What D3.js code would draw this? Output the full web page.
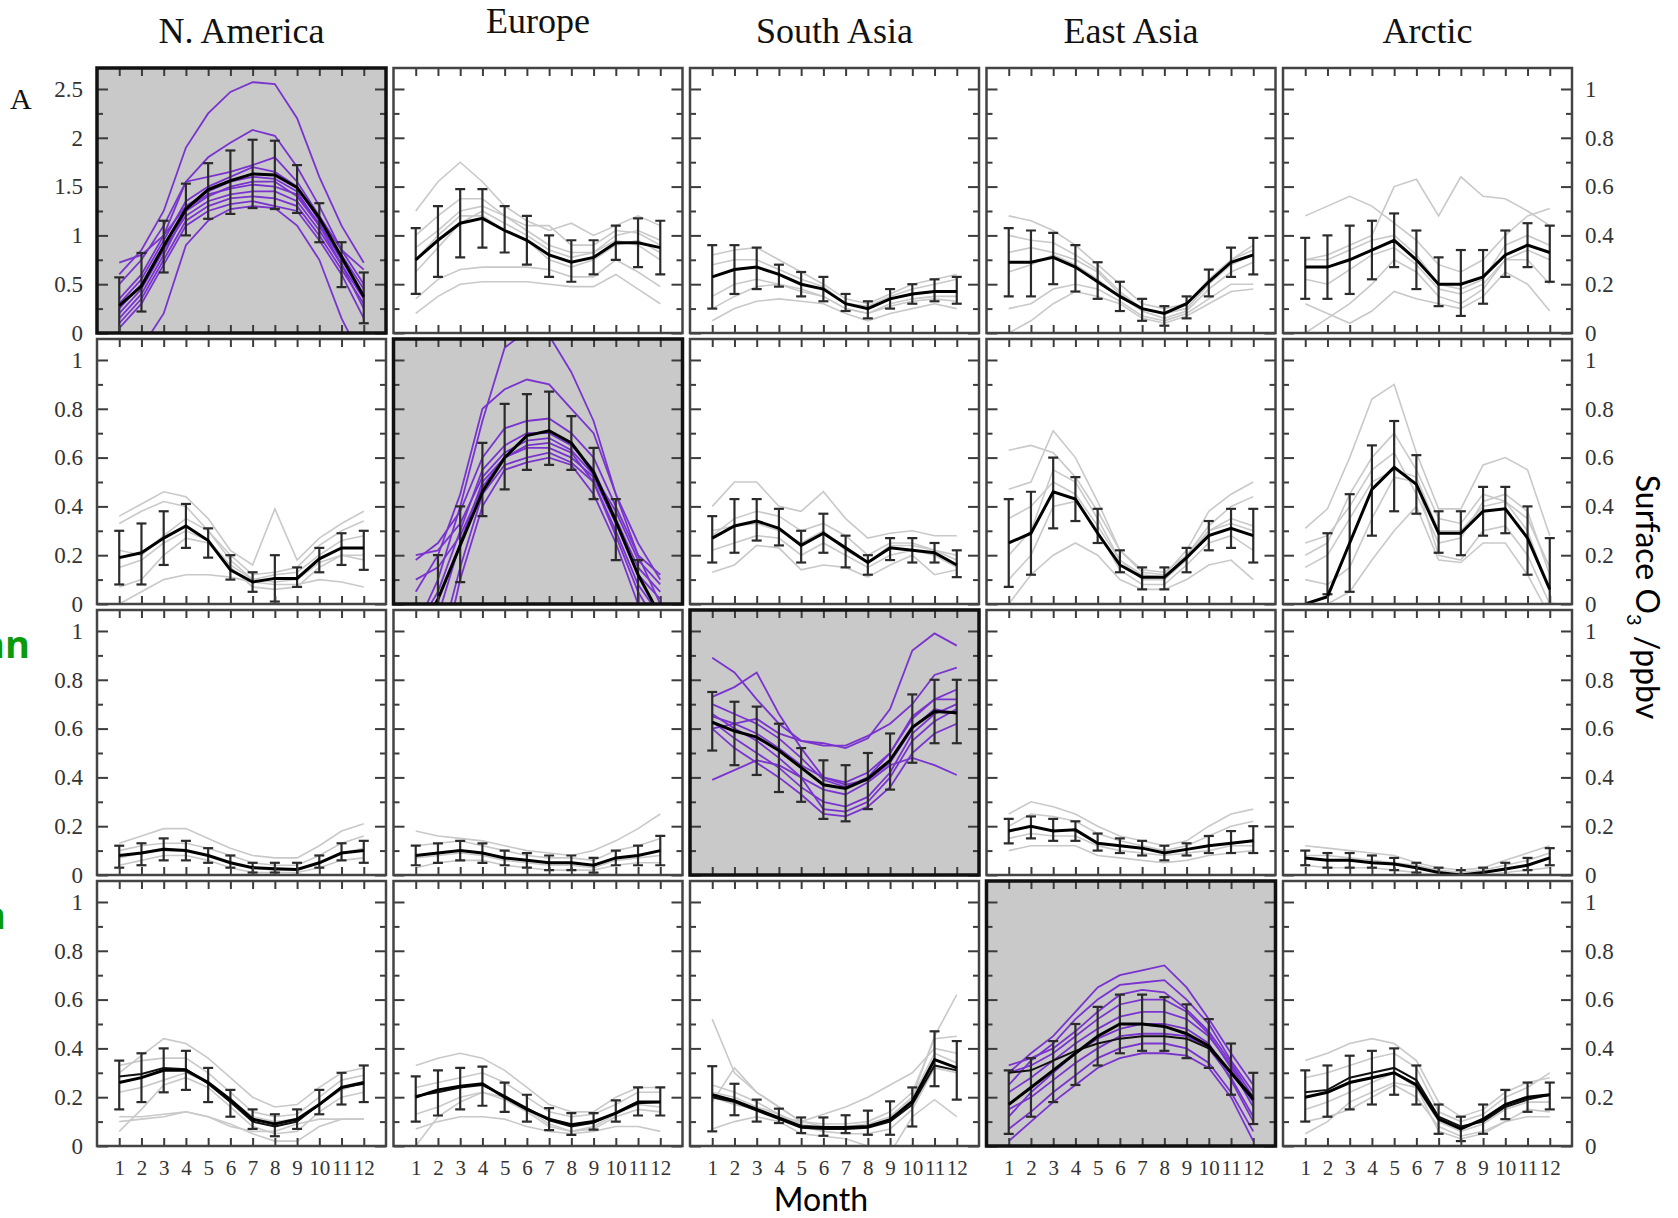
<!DOCTYPE html>
<html>
<head>
<meta charset="utf-8">
<script src="https://cdn.jsdelivr.net/npm/d3@7"></script>
<style>
  body { margin: 0; background: #fff; }
  svg { display: block; }
</style>
</head>
<body>
<svg id="chart"></svg>
<script>
// Column regions and months
const regions = ["N. America", "Europe", "South Asia", "East Asia", "Arctic"];
const months = [1, 2, 3, 4, 5, 6, 7, 8, 9, 10, 11, 12];
const yTicksUnit = [0, 0.2, 0.4, 0.6, 0.8, 1];
const yMinorUnit = [0.1, 0.3, 0.5, 0.7, 0.9];
const yTicksBig = [0, 0.5, 1, 1.5, 2, 2.5];
const yMinorBig = [0.25, 0.75, 1.25, 1.75, 2.25];

// ---------- row 1 ----------
const meanR1 = [
  [0.28, 0.48, 0.89, 1.27, 1.47, 1.56, 1.63, 1.62, 1.49, 1.18, 0.78, 0.37],
  [0.30, 0.38, 0.45, 0.47, 0.42, 0.38, 0.32, 0.29, 0.31, 0.37, 0.37, 0.35],
  [0.23, 0.26, 0.27, 0.24, 0.20, 0.18, 0.12, 0.10, 0.14, 0.16, 0.17, 0.17],
  [0.29, 0.29, 0.31, 0.27, 0.21, 0.15, 0.10, 0.08, 0.12, 0.21, 0.29, 0.32],
  [0.27, 0.27, 0.30, 0.34, 0.38, 0.30, 0.20, 0.20, 0.23, 0.32, 0.36, 0.33]
];
const loR1 = [
  [0.00, 0.22, 0.62, 1.00, 1.17, 1.22, 1.28, 1.27, 1.23, 0.93, 0.47, 0.10],
  [0.16, 0.23, 0.31, 0.35, 0.33, 0.28, 0.23, 0.21, 0.24, 0.30, 0.27, 0.24],
  [0.10, 0.16, 0.18, 0.19, 0.15, 0.13, 0.09, 0.06, 0.10, 0.12, 0.13, 0.12],
  [0.15, 0.15, 0.20, 0.17, 0.14, 0.09, 0.05, 0.03, 0.06, 0.15, 0.23, 0.24],
  [0.14, 0.14, 0.16, 0.22, 0.27, 0.18, 0.11, 0.07, 0.12, 0.23, 0.27, 0.21]
];
const hiR1 = [
  [0.57, 0.82, 1.15, 1.53, 1.74, 1.87, 1.98, 1.97, 1.72, 1.33, 0.93, 0.62],
  [0.43, 0.52, 0.59, 0.59, 0.52, 0.48, 0.40, 0.38, 0.38, 0.44, 0.47, 0.46],
  [0.36, 0.36, 0.35, 0.28, 0.25, 0.23, 0.16, 0.13, 0.18, 0.20, 0.22, 0.23],
  [0.43, 0.42, 0.41, 0.36, 0.29, 0.21, 0.14, 0.11, 0.15, 0.26, 0.35, 0.39],
  [0.39, 0.40, 0.44, 0.46, 0.49, 0.42, 0.31, 0.34, 0.34, 0.42, 0.45, 0.44]
];
const membersR1 = [
  [
    [0.60, 0.85, 1.25, 1.90, 2.25, 2.47, 2.57, 2.55, 2.20, 1.60, 1.10, 0.72],
    [0.50, 0.75, 1.10, 1.55, 1.80, 1.95, 2.08, 2.02, 1.70, 1.30, 0.85, 0.50],
    [-0.50, -0.15, 0.20, 0.90, 1.15, 1.27, 1.30, 1.28, 1.10, 0.75, 0.15, -0.30],
    [0.30, 0.55, 0.95, 1.35, 1.50, 1.60, 1.70, 1.65, 1.50, 1.15, 0.75, 0.40],
    [0.20, 0.45, 0.85, 1.20, 1.35, 1.42, 1.45, 1.45, 1.35, 1.05, 0.70, 0.35],
    [0.10, 0.35, 0.75, 1.15, 1.30, 1.38, 1.40, 1.38, 1.30, 1.00, 0.65, 0.30],
    [0.72, 0.80, 1.00, 1.55, 1.60, 1.65, 1.72, 1.80, 1.55, 1.20, 0.85, 0.65],
    [0.15, 0.40, 0.80, 1.25, 1.40, 1.50, 1.55, 1.55, 1.40, 1.10, 0.70, 0.25],
    [0.05, 0.30, 0.70, 1.10, 1.25, 1.32, 1.35, 1.30, 1.25, 0.95, 0.60, 0.15],
    [0.35, 0.60, 1.00, 1.30, 1.45, 1.55, 1.60, 1.58, 1.45, 1.10, 0.80, 0.45],
    [0.25, 0.50, 0.90, 1.28, 1.42, 1.48, 1.52, 1.50, 1.42, 1.12, 0.75, 0.38]
  ],
  [
    [0.50, 0.62, 0.70, 0.62, 0.52, 0.46, 0.42, 0.45, 0.40, 0.44, 0.48, 0.44],
    [0.08, 0.15, 0.20, 0.21, 0.21, 0.21, 0.20, 0.19, 0.19, 0.24, 0.18, 0.12],
    [0.14, 0.22, 0.26, 0.27, 0.27, 0.27, 0.26, 0.23, 0.23, 0.30, 0.25, 0.19],
    [0.35, 0.42, 0.50, 0.52, 0.48, 0.42, 0.36, 0.33, 0.33, 0.40, 0.42, 0.38],
    [0.25, 0.35, 0.45, 0.50, 0.45, 0.40, 0.34, 0.31, 0.33, 0.38, 0.36, 0.30],
    [0.40, 0.48, 0.55, 0.55, 0.48, 0.44, 0.44, 0.36, 0.36, 0.42, 0.41, 0.36],
    [0.30, 0.40, 0.48, 0.48, 0.42, 0.38, 0.30, 0.27, 0.30, 0.36, 0.38, 0.33]
  ],
  [
    [0.32, 0.34, 0.35, 0.30, 0.25, 0.20, 0.14, 0.12, 0.16, 0.20, 0.22, 0.24],
    [0.15, 0.20, 0.22, 0.20, 0.17, 0.15, 0.10, 0.08, 0.12, 0.14, 0.15, 0.15],
    [0.05, 0.10, 0.13, 0.14, 0.13, 0.12, 0.08, 0.05, 0.08, 0.10, 0.12, 0.10],
    [0.28, 0.30, 0.30, 0.26, 0.22, 0.19, 0.12, 0.11, 0.15, 0.18, 0.20, 0.22],
    [0.10, 0.15, 0.19, 0.20, 0.18, 0.15, 0.10, 0.08, 0.11, 0.13, 0.14, 0.13]
  ],
  [
    [0.48, 0.46, 0.42, 0.36, 0.28, 0.20, 0.12, 0.10, 0.12, 0.22, 0.30, 0.34],
    [0.40, 0.38, 0.37, 0.32, 0.26, 0.17, 0.10, 0.08, 0.10, 0.20, 0.28, 0.32],
    [0.10, 0.12, 0.18, 0.20, 0.18, 0.13, 0.07, 0.05, 0.08, 0.14, 0.20, 0.20],
    [0.25, 0.28, 0.32, 0.28, 0.22, 0.15, 0.09, 0.06, 0.09, 0.18, 0.25, 0.29],
    [0.00, 0.05, 0.12, 0.17, 0.15, 0.12, 0.06, 0.04, 0.07, 0.12, 0.17, 0.18],
    [0.33, 0.35, 0.33, 0.30, 0.25, 0.16, 0.10, 0.08, 0.10, 0.20, 0.30, 0.36]
  ],
  [
    [0.48, 0.52, 0.56, 0.52, 0.45, 0.38, 0.28, 0.25, 0.30, 0.40, 0.48, 0.51],
    [0.30, 0.32, 0.36, 0.40, 0.60, 0.63, 0.48, 0.64, 0.56, 0.55, 0.50, 0.44],
    [0.12, 0.08, 0.04, 0.09, 0.17, 0.14, 0.12, 0.10, 0.15, 0.25, 0.20, 0.09],
    [0.00, 0.06, 0.12, 0.20, 0.30, 0.25, 0.15, 0.12, 0.18, 0.30, 0.30, 0.20],
    [0.30, 0.30, 0.34, 0.38, 0.40, 0.32, 0.20, 0.18, 0.22, 0.36, 0.40, 0.36],
    [0.22, 0.20, 0.26, 0.32, 0.35, 0.28, 0.18, 0.16, 0.20, 0.30, 0.34, 0.30]
  ]
];

// ---------- row 2 ----------
const meanR2 = [
  [0.19, 0.21, 0.27, 0.32, 0.26, 0.14, 0.09, 0.105, 0.105, 0.185, 0.23, 0.23],
  [-0.15, 0.02, 0.24, 0.46, 0.60, 0.69, 0.71, 0.66, 0.54, 0.34, 0.12, -0.05],
  [0.27, 0.32, 0.34, 0.31, 0.24, 0.29, 0.23, 0.17, 0.23, 0.22, 0.21, 0.16],
  [0.25, 0.29, 0.46, 0.43, 0.29, 0.16, 0.11, 0.11, 0.19, 0.28, 0.31, 0.28],
  [0.00, 0.03, 0.25, 0.47, 0.56, 0.49, 0.29, 0.29, 0.38, 0.39, 0.27, 0.06]
];
const loR2 = [
  [0.08, 0.08, 0.16, 0.23, 0.19, 0.10, 0.05, 0.01, 0.07, 0.13, 0.16, 0.14],
  [-0.30, -0.05, 0.09, 0.36, 0.47, 0.55, 0.57, 0.55, 0.43, 0.18, 0.00, -0.20],
  [0.17, 0.21, 0.26, 0.24, 0.17, 0.21, 0.15, 0.12, 0.18, 0.17, 0.17, 0.11],
  [0.07, 0.12, 0.31, 0.34, 0.25, 0.13, 0.06, 0.06, 0.13, 0.22, 0.23, 0.17],
  [0.00, 0.04, 0.05, 0.28, 0.38, 0.37, 0.21, 0.20, 0.28, 0.29, 0.12, 0.00]
];
const hiR2 = [
  [0.30, 0.33, 0.38, 0.41, 0.31, 0.20, 0.13, 0.20, 0.15, 0.23, 0.29, 0.30],
  [-0.02, 0.20, 0.40, 0.66, 0.82, 0.86, 0.87, 0.77, 0.64, 0.43, 0.18, -0.02],
  [0.36, 0.43, 0.43, 0.39, 0.30, 0.37, 0.28, 0.20, 0.27, 0.27, 0.25, 0.22],
  [0.43, 0.46, 0.60, 0.52, 0.39, 0.22, 0.15, 0.15, 0.23, 0.34, 0.39, 0.39],
  [0.00, 0.29, 0.45, 0.65, 0.75, 0.61, 0.38, 0.38, 0.48, 0.48, 0.40, 0.27]
];
const membersR2 = [
  [
    [0.36, 0.41, 0.46, 0.44, 0.35, 0.22, 0.16, 0.39, 0.18, 0.27, 0.33, 0.38],
    [0.33, 0.38, 0.42, 0.40, 0.30, 0.20, 0.12, 0.13, 0.15, 0.24, 0.30, 0.34],
    [0.00, 0.05, 0.10, 0.12, 0.12, 0.11, 0.09, 0.08, 0.08, 0.10, 0.09, 0.07],
    [0.07, 0.10, 0.20, 0.27, 0.25, 0.15, 0.07, 0.06, 0.07, 0.15, 0.20, 0.18],
    [0.15, 0.18, 0.25, 0.30, 0.26, 0.16, 0.10, 0.09, 0.10, 0.17, 0.20, 0.20],
    [0.22, 0.20, 0.28, 0.35, 0.30, 0.18, 0.10, 0.12, 0.13, 0.20, 0.26, 0.28]
  ],
  [
    [-0.10, 0.10, 0.40, 0.75, 1.05, 1.12, 1.10, 0.95, 0.75, 0.45, 0.20, 0.00],
    [0.05, 0.20, 0.45, 0.80, 0.88, 0.92, 0.90, 0.80, 0.70, 0.45, 0.25, 0.10],
    [0.18, 0.25, 0.38, 0.60, 0.72, 0.75, 0.76, 0.70, 0.60, 0.40, 0.20, 0.12],
    [-0.10, 0.05, 0.30, 0.55, 0.65, 0.70, 0.70, 0.65, 0.55, 0.35, 0.15, 0.05],
    [-0.20, -0.05, 0.25, 0.50, 0.60, 0.65, 0.66, 0.62, 0.50, 0.30, 0.08, -0.05],
    [-0.30, -0.20, 0.15, 0.45, 0.57, 0.60, 0.62, 0.58, 0.50, 0.28, 0.05, -0.10],
    [-0.50, -0.30, 0.10, 0.40, 0.55, 0.58, 0.60, 0.57, 0.45, 0.25, 0.00, -0.20],
    [0.20, 0.22, 0.33, 0.52, 0.62, 0.67, 0.68, 0.63, 0.53, 0.38, 0.18, 0.08],
    [0.10, 0.15, 0.28, 0.48, 0.60, 0.64, 0.64, 0.60, 0.52, 0.33, 0.12, 0.02]
  ],
  [
    [0.40, 0.50, 0.50, 0.40, 0.38, 0.46, 0.35, 0.27, 0.29, 0.30, 0.28, 0.28],
    [0.28, 0.35, 0.38, 0.36, 0.30, 0.33, 0.28, 0.20, 0.25, 0.25, 0.22, 0.20],
    [0.13, 0.16, 0.24, 0.23, 0.14, 0.16, 0.15, 0.11, 0.16, 0.20, 0.12, 0.14],
    [0.22, 0.25, 0.28, 0.27, 0.20, 0.25, 0.20, 0.15, 0.20, 0.22, 0.20, 0.15],
    [0.30, 0.32, 0.33, 0.30, 0.25, 0.30, 0.22, 0.17, 0.24, 0.24, 0.22, 0.18]
  ],
  [
    [0.63, 0.65, 0.62, 0.52, 0.38, 0.22, 0.14, 0.13, 0.20, 0.32, 0.40, 0.44],
    [0.47, 0.50, 0.71, 0.60, 0.42, 0.22, 0.13, 0.12, 0.22, 0.38, 0.45, 0.50],
    [0.00, 0.12, 0.20, 0.25, 0.20, 0.10, 0.06, 0.06, 0.10, 0.16, 0.18, 0.10],
    [0.20, 0.30, 0.55, 0.50, 0.35, 0.18, 0.10, 0.10, 0.18, 0.30, 0.35, 0.32],
    [0.10, 0.20, 0.40, 0.42, 0.30, 0.14, 0.08, 0.08, 0.16, 0.25, 0.28, 0.22],
    [0.35, 0.40, 0.50, 0.45, 0.32, 0.18, 0.12, 0.11, 0.20, 0.30, 0.33, 0.30]
  ],
  [
    [0.31, 0.39, 0.60, 0.84, 0.90, 0.62, 0.39, 0.39, 0.57, 0.60, 0.55, 0.28],
    [0.20, 0.25, 0.45, 0.60, 0.70, 0.55, 0.35, 0.33, 0.45, 0.42, 0.30, 0.05],
    [0.15, 0.20, 0.35, 0.50, 0.55, 0.52, 0.30, 0.30, 0.40, 0.42, 0.35, 0.15],
    [0.10, 0.08, 0.15, 0.35, 0.52, 0.50, 0.20, 0.18, 0.30, 0.32, 0.20, 0.00],
    [-0.05, 0.00, 0.05, 0.18, 0.30, 0.40, 0.18, 0.17, 0.25, 0.25, 0.12, -0.05],
    [0.25, 0.28, 0.40, 0.55, 0.62, 0.45, 0.25, 0.27, 0.42, 0.45, 0.38, 0.12]
  ]
];

// ---------- row 3 ----------
const meanR3 = [
  [0.08, 0.09, 0.105, 0.10, 0.08, 0.05, 0.03, 0.026, 0.023, 0.05, 0.09, 0.10],
  [0.08, 0.09, 0.10, 0.09, 0.07, 0.06, 0.05, 0.05, 0.04, 0.07, 0.08, 0.10],
  [0.626, 0.59, 0.565, 0.51, 0.44, 0.37, 0.355, 0.395, 0.47, 0.605, 0.67, 0.665],
  [0.18, 0.20, 0.18, 0.185, 0.13, 0.12, 0.11, 0.09, 0.105, 0.12, 0.13, 0.14],
  [0.07, 0.06, 0.06, 0.05, 0.045, 0.03, 0.01, 0.00, 0.01, 0.025, 0.04, 0.07]
];
const loR3 = [
  [0.03, 0.04, 0.06, 0.06, 0.05, 0.03, 0.01, 0.01, 0.00, 0.03, 0.06, 0.05],
  [0.04, 0.05, 0.06, 0.05, 0.04, 0.03, 0.02, 0.02, 0.01, 0.04, 0.04, 0.04],
  [0.51, 0.45, 0.41, 0.34, 0.30, 0.23, 0.22, 0.27, 0.35, 0.46, 0.54, 0.54],
  [0.13, 0.15, 0.14, 0.14, 0.10, 0.09, 0.08, 0.06, 0.08, 0.09, 0.09, 0.09],
  [0.04, 0.03, 0.03, 0.03, 0.02, 0.01, 0.00, -0.01, 0.00, 0.00, 0.02, 0.04]
];
const hiR3 = [
  [0.12, 0.13, 0.15, 0.14, 0.11, 0.08, 0.05, 0.05, 0.05, 0.08, 0.13, 0.14],
  [0.12, 0.13, 0.14, 0.13, 0.10, 0.09, 0.08, 0.08, 0.07, 0.10, 0.12, 0.16],
  [0.75, 0.71, 0.69, 0.62, 0.52, 0.47, 0.45, 0.50, 0.58, 0.74, 0.80, 0.80],
  [0.23, 0.24, 0.23, 0.22, 0.17, 0.15, 0.14, 0.12, 0.13, 0.16, 0.18, 0.20],
  [0.10, 0.09, 0.09, 0.08, 0.07, 0.05, 0.03, 0.02, 0.03, 0.05, 0.07, 0.11]
];
const membersR3 = [
  [
    [0.13, 0.16, 0.19, 0.19, 0.15, 0.11, 0.08, 0.07, 0.07, 0.12, 0.18, 0.21],
    [0.10, 0.12, 0.13, 0.13, 0.11, 0.08, 0.05, 0.04, 0.04, 0.08, 0.13, 0.16],
    [0.04, 0.06, 0.08, 0.08, 0.06, 0.03, 0.01, 0.01, 0.01, 0.03, 0.06, 0.07],
    [0.07, 0.09, 0.11, 0.10, 0.08, 0.05, 0.03, 0.02, 0.02, 0.05, 0.09, 0.11]
  ],
  [
    [0.18, 0.16, 0.15, 0.14, 0.12, 0.10, 0.09, 0.08, 0.10, 0.14, 0.19, 0.25],
    [0.12, 0.13, 0.14, 0.12, 0.10, 0.08, 0.07, 0.07, 0.06, 0.10, 0.12, 0.15],
    [0.03, 0.05, 0.06, 0.06, 0.04, 0.03, 0.02, 0.02, 0.02, 0.04, 0.05, 0.05],
    [0.07, 0.08, 0.09, 0.08, 0.06, 0.05, 0.04, 0.04, 0.03, 0.06, 0.07, 0.08]
  ],
  [
    [0.60, 0.62, 0.64, 0.58, 0.55, 0.54, 0.52, 0.56, 0.68, 0.92, 0.99, 0.94],
    [0.89, 0.83, 0.72, 0.62, 0.55, 0.53, 0.53, 0.57, 0.62, 0.70, 0.82, 0.85],
    [0.73, 0.77, 0.83, 0.66, 0.52, 0.40, 0.38, 0.42, 0.50, 0.65, 0.72, 0.72],
    [0.39, 0.43, 0.47, 0.45, 0.40, 0.35, 0.33, 0.38, 0.45, 0.48, 0.45, 0.41],
    [0.60, 0.52, 0.46, 0.40, 0.33, 0.25, 0.24, 0.28, 0.36, 0.50, 0.58, 0.62],
    [0.66, 0.60, 0.55, 0.48, 0.40, 0.27, 0.26, 0.30, 0.40, 0.55, 0.63, 0.68],
    [0.63, 0.56, 0.50, 0.44, 0.36, 0.30, 0.28, 0.32, 0.42, 0.58, 0.66, 0.70],
    [0.65, 0.62, 0.58, 0.52, 0.45, 0.40, 0.37, 0.39, 0.46, 0.60, 0.68, 0.66],
    [0.70, 0.66, 0.62, 0.56, 0.48, 0.39, 0.36, 0.40, 0.50, 0.64, 0.72, 0.76]
  ],
  [
    [0.25, 0.30, 0.28, 0.25, 0.20, 0.16, 0.14, 0.12, 0.14, 0.20, 0.25, 0.27],
    [0.20, 0.25, 0.24, 0.22, 0.17, 0.14, 0.12, 0.10, 0.12, 0.16, 0.20, 0.22],
    [0.10, 0.12, 0.12, 0.12, 0.08, 0.07, 0.06, 0.05, 0.06, 0.08, 0.09, 0.10],
    [0.15, 0.17, 0.16, 0.16, 0.12, 0.10, 0.09, 0.08, 0.09, 0.10, 0.12, 0.12]
  ],
  [
    [0.12, 0.11, 0.10, 0.09, 0.08, 0.05, 0.03, 0.02, 0.03, 0.06, 0.09, 0.12],
    [0.04, 0.03, 0.03, 0.03, 0.02, 0.01, 0.00, 0.00, 0.00, 0.01, 0.02, 0.03],
    [0.08, 0.08, 0.07, 0.06, 0.05, 0.04, 0.02, 0.01, 0.02, 0.04, 0.06, 0.09]
  ]
];

// ---------- row 4 ----------
const meanR4 = [
  [0.26, 0.28, 0.31, 0.31, 0.26, 0.19, 0.11, 0.09, 0.11, 0.17, 0.24, 0.26],
  [0.20, 0.23, 0.245, 0.255, 0.20, 0.15, 0.11, 0.087, 0.10, 0.135, 0.18, 0.18],
  [0.21, 0.186, 0.15, 0.115, 0.08, 0.076, 0.076, 0.08, 0.108, 0.183, 0.354, 0.32],
  [0.17, 0.24, 0.31, 0.38, 0.45, 0.50, 0.50, 0.49, 0.46, 0.41, 0.30, 0.19],
  [0.20, 0.22, 0.26, 0.28, 0.30, 0.25, 0.11, 0.07, 0.11, 0.17, 0.20, 0.21]
];
const mean2R4 = [
  [0.285, 0.295, 0.32, 0.315, 0.255, 0.18, 0.10, 0.08, 0.10, 0.17, 0.24, 0.255],
  [0.205, 0.22, 0.24, 0.25, 0.205, 0.155, 0.105, 0.08, 0.095, 0.135, 0.175, 0.18],
  [0.20, 0.18, 0.145, 0.11, 0.075, 0.07, 0.07, 0.075, 0.10, 0.17, 0.33, 0.31],
  [0.30, 0.31, 0.35, 0.39, 0.42, 0.44, 0.45, 0.45, 0.44, 0.40, 0.30, 0.20],
  [0.22, 0.23, 0.28, 0.30, 0.32, 0.27, 0.12, 0.08, 0.10, 0.16, 0.19, 0.21]
];
const loR4 = [
  [0.15, 0.18, 0.22, 0.23, 0.18, 0.12, 0.07, 0.04, 0.07, 0.13, 0.17, 0.18],
  [0.10, 0.125, 0.15, 0.165, 0.14, 0.10, 0.065, 0.046, 0.067, 0.10, 0.125, 0.125],
  [0.06, 0.126, 0.10, 0.094, 0.053, 0.042, 0.053, 0.046, 0.046, 0.08, 0.245, 0.19],
  [0.05, 0.12, 0.18, 0.25, 0.33, 0.38, 0.39, 0.39, 0.36, 0.32, 0.21, 0.09],
  [0.10, 0.12, 0.15, 0.17, 0.21, 0.17, 0.05, 0.02, 0.05, 0.11, 0.14, 0.15]
];
const hiR4 = [
  [0.35, 0.38, 0.40, 0.39, 0.32, 0.23, 0.15, 0.13, 0.15, 0.23, 0.30, 0.33],
  [0.285, 0.31, 0.32, 0.325, 0.26, 0.21, 0.155, 0.135, 0.135, 0.187, 0.24, 0.24],
  [0.327, 0.255, 0.19, 0.153, 0.117, 0.117, 0.126, 0.145, 0.183, 0.24, 0.47, 0.43],
  [0.31, 0.36, 0.43, 0.50, 0.57, 0.62, 0.62, 0.61, 0.58, 0.52, 0.42, 0.30],
  [0.31, 0.33, 0.37, 0.39, 0.40, 0.33, 0.17, 0.12, 0.17, 0.23, 0.26, 0.26]
];
const membersR4 = [
  [
    [0.30, 0.37, 0.44, 0.42, 0.36, 0.28, 0.20, 0.16, 0.17, 0.24, 0.30, 0.32],
    [0.12, 0.12, 0.13, 0.14, 0.12, 0.09, 0.05, 0.02, 0.02, 0.08, 0.11, 0.11],
    [0.10, 0.11, 0.12, 0.14, 0.12, 0.08, 0.06, 0.06, 0.09, 0.11, 0.11, 0.11],
    [0.06, 0.15, 0.25, 0.28, 0.24, 0.16, 0.08, 0.05, 0.06, 0.14, 0.20, 0.22],
    [0.33, 0.35, 0.36, 0.36, 0.30, 0.22, 0.14, 0.12, 0.13, 0.20, 0.27, 0.29],
    [0.22, 0.24, 0.27, 0.30, 0.26, 0.19, 0.12, 0.10, 0.11, 0.17, 0.23, 0.26]
  ],
  [
    [0.33, 0.36, 0.38, 0.36, 0.31, 0.24, 0.17, 0.14, 0.14, 0.20, 0.24, 0.24],
    [0.07, 0.10, 0.12, 0.12, 0.11, 0.08, 0.06, 0.05, 0.06, 0.08, 0.08, 0.06],
    [0.00, 0.12, 0.18, 0.22, 0.20, 0.15, 0.09, 0.06, 0.07, 0.12, 0.15, 0.14],
    [0.24, 0.26, 0.28, 0.30, 0.26, 0.20, 0.14, 0.12, 0.13, 0.17, 0.22, 0.22],
    [0.13, 0.16, 0.20, 0.22, 0.19, 0.14, 0.08, 0.06, 0.08, 0.13, 0.17, 0.16]
  ],
  [
    [0.52, 0.30, 0.22, 0.16, 0.10, 0.08, 0.08, 0.09, 0.12, 0.20, 0.45, 0.62],
    [0.18, 0.32, 0.22, 0.16, 0.10, 0.09, 0.09, 0.10, 0.14, 0.22, 0.44, 0.45],
    [0.20, 0.17, 0.15, 0.12, 0.10, 0.13, 0.16, 0.20, 0.25, 0.30, 0.40, 0.38],
    [0.25, 0.22, 0.18, 0.13, 0.08, 0.06, 0.05, 0.05, 0.07, 0.15, 0.32, 0.30],
    [0.07, 0.10, 0.12, 0.10, 0.05, 0.04, 0.03, 0.00, -0.03, 0.12, 0.19, 0.12],
    [0.22, 0.20, 0.16, 0.13, 0.09, 0.07, 0.07, 0.08, 0.10, 0.20, 0.38, 0.34]
  ],
  [
    [0.30, 0.38, 0.45, 0.55, 0.65, 0.70, 0.72, 0.74, 0.65, 0.52, 0.38, 0.25],
    [0.25, 0.35, 0.42, 0.52, 0.60, 0.66, 0.67, 0.68, 0.60, 0.50, 0.35, 0.22],
    [0.02, 0.10, 0.18, 0.25, 0.32, 0.36, 0.38, 0.38, 0.37, 0.32, 0.20, 0.02],
    [0.07, 0.14, 0.22, 0.29, 0.36, 0.40, 0.42, 0.42, 0.40, 0.34, 0.22, 0.06],
    [0.15, 0.20, 0.27, 0.34, 0.40, 0.45, 0.46, 0.46, 0.45, 0.40, 0.28, 0.12],
    [0.22, 0.28, 0.35, 0.42, 0.48, 0.53, 0.55, 0.55, 0.52, 0.45, 0.33, 0.18],
    [0.30, 0.33, 0.38, 0.45, 0.52, 0.58, 0.60, 0.60, 0.55, 0.46, 0.32, 0.16],
    [0.12, 0.22, 0.30, 0.38, 0.44, 0.48, 0.50, 0.50, 0.48, 0.42, 0.27, 0.10],
    [0.33, 0.36, 0.40, 0.47, 0.55, 0.62, 0.64, 0.63, 0.56, 0.47, 0.34, 0.20]
  ],
  [
    [0.35, 0.38, 0.42, 0.44, 0.42, 0.35, 0.18, 0.12, 0.15, 0.22, 0.26, 0.28],
    [0.10, 0.12, 0.15, 0.20, 0.25, 0.20, 0.08, 0.04, 0.06, 0.10, 0.12, 0.12],
    [0.05, 0.10, 0.18, 0.22, 0.26, 0.24, 0.06, 0.03, 0.05, 0.10, 0.15, 0.14],
    [0.28, 0.30, 0.33, 0.36, 0.38, 0.32, 0.14, 0.10, 0.13, 0.20, 0.24, 0.30],
    [0.15, 0.18, 0.22, 0.26, 0.30, 0.24, 0.10, 0.06, 0.09, 0.15, 0.18, 0.18]
  ]
];

const rows = [
  { mean: meanR1, lo: loR1, hi: hiR1, members: membersR1, mean2: null },
  { mean: meanR2, lo: loR2, hi: hiR2, members: membersR2, mean2: null },
  { mean: meanR3, lo: loR3, hi: hiR3, members: membersR3, mean2: null },
  { mean: meanR4, lo: loR4, hi: hiR4, members: membersR4, mean2: mean2R4 }
];

// Layout
const width = 1678, height = 1218;
const gridLeft = 97, gridTop = 68;
const colStep = 296.5, rowStep = 271;
const pw = 289, ph = 265;
const serif = "'Liberation Serif', 'DejaVu Serif', serif";
const sans = "'Open Sans', 'Noto Sans', sans-serif";
const titleSans = "Lato, 'Open Sans', sans-serif";
const purple = "#7a33cf";
const memberGray = "#c9c9c9";

const svg = d3.select("#chart").attr("width", width).attr("height", height);
svg.append("rect").attr("width", width).attr("height", height).attr("fill", "#fff");

const x = d3.scaleLinear().domain([0, 13]).range([0, pw]);
const yUnit = d3.scaleLinear().domain([0, 1.086]).range([ph, 0]);
const yBig = d3.scaleLinear().domain([0, 2.715]).range([ph, 0]);
const fmt = d => String(+d.toFixed(2));

// column titles
const titleY = [43, 33, 43, 43, 43];
svg.selectAll("text.title")
  .data(regions)
  .enter()
  .append("text")
  .attr("class", "title")
  .attr("x", (d, i) => gridLeft + i * colStep + pw / 2)
  .attr("y", (d, i) => titleY[i])
  .attr("text-anchor", "middle")
  .attr("font-family", serif)
  .attr("font-size", 36)
  .attr("fill", "#111")
  .text(d => d);

rows.forEach((row, r) => {
  regions.forEach((reg, c) => {
    const hl = r === c;
    const big = r === 0 && c === 0;
    const y = big ? yBig : yUnit;
    const g = svg.append("g")
      .attr("transform", `translate(${gridLeft + c * colStep},${gridTop + r * rowStep})`);

    const clipId = `clip-${r}-${c}`;
    g.append("clipPath").attr("id", clipId)
      .append("rect").attr("width", pw).attr("height", ph);

    g.append("rect")
      .attr("width", pw).attr("height", ph)
      .attr("fill", hl ? "#c9c9c9" : "#fff");

    const plot = g.append("g").attr("clip-path", `url(#${clipId})`);
    const line = d3.line().x((d, i) => x(months[i])).y(d => y(d));

    // ensemble members
    plot.selectAll("path.member")
      .data(row.members[c])
      .enter()
      .append("path")
      .attr("class", "member")
      .attr("d", line)
      .attr("fill", "none")
      .attr("stroke", hl ? purple : memberGray)
      .attr("stroke-width", hl ? 1.8 : 1.6);

    // error bars
    const bars = months.map((m, i) => ({ m, lo: row.lo[c][i], hi: row.hi[c][i] }))
      .filter(d => d.hi - d.lo > 0.001);
    const eb = plot.selectAll("g.eb").data(bars).enter().append("g")
      .attr("stroke", "#2b2b2b").attr("stroke-width", 2.2);
    eb.append("line")
      .attr("x1", d => x(d.m)).attr("x2", d => x(d.m))
      .attr("y1", d => y(d.lo)).attr("y2", d => y(d.hi));
    eb.append("line")
      .attr("x1", d => x(d.m) - 5).attr("x2", d => x(d.m) + 5)
      .attr("y1", d => y(d.lo)).attr("y2", d => y(d.lo));
    eb.append("line")
      .attr("x1", d => x(d.m) - 5).attr("x2", d => x(d.m) + 5)
      .attr("y1", d => y(d.hi)).attr("y2", d => y(d.hi));

    // multi-model mean
    if (row.mean2) {
      plot.append("path")
        .attr("d", line(row.mean2[c]))
        .attr("fill", "none").attr("stroke", "#111").attr("stroke-width", 2);
    }
    plot.append("path")
      .attr("d", line(row.mean[c]))
      .attr("fill", "none").attr("stroke", "#000").attr("stroke-width", 3);

    // ticks
    const styleAxis = sel => {
      sel.select(".domain").remove();
      sel.selectAll(".tick line").attr("stroke", "#3c3c3c").attr("stroke-width", 2);
      sel.selectAll(".tick text")
        .attr("font-family", serif).attr("fill", "#333");
    };
    const showX = r === rows.length - 1;
    g.append("g")
      .attr("transform", `translate(0,${ph})`)
      .call(d3.axisBottom(x).tickValues(months).tickSize(-8).tickPadding(14)
        .tickFormat(showX ? d3.format("d") : ""))
      .call(styleAxis)
      .selectAll(".tick text").attr("font-size", 21);
    g.append("g")
      .call(d3.axisTop(x).tickValues(months).tickSize(-8).tickFormat(""))
      .call(styleAxis);

    const major = big ? yTicksBig : yTicksUnit;
    const minor = big ? yMinorBig : yMinorUnit;
    g.append("g")
      .call(d3.axisLeft(y).tickValues(major).tickSize(-11).tickPadding(14)
        .tickFormat(c === 0 ? fmt : ""))
      .call(styleAxis)
      .selectAll(".tick text").attr("font-size", 23);
    g.append("g")
      .call(d3.axisLeft(y).tickValues(minor).tickSize(-6).tickFormat(""))
      .call(styleAxis);
    g.append("g")
      .attr("transform", `translate(${pw},0)`)
      .call(d3.axisRight(y).tickValues(major).tickSize(-11).tickPadding(13)
        .tickFormat(c === regions.length - 1 ? fmt : ""))
      .call(styleAxis)
      .selectAll(".tick text").attr("font-size", 23);
    g.append("g")
      .attr("transform", `translate(${pw},0)`)
      .call(d3.axisRight(y).tickValues(minor).tickSize(-6).tickFormat(""))
      .call(styleAxis);

    // frame
    g.append("rect")
      .attr("width", pw).attr("height", ph)
      .attr("fill", "none")
      .attr("stroke", hl ? "#111" : "#444")
      .attr("stroke-width", hl ? 3.5 : 2.5);
  });
});

// panel letter and cropped side labels
svg.append("text")
  .attr("x", 10).attr("y", 109)
  .attr("font-family", serif).attr("font-size", 30).attr("fill", "#111")
  .text("A");
svg.append("text")
  .attr("x", 30).attr("y", 658)
  .attr("text-anchor", "end")
  .attr("font-family", sans).attr("font-weight", "bold")
  .attr("font-size", 38).attr("fill", "#0a9a0a")
  .text("an");
svg.append("text")
  .attr("x", 6).attr("y", 929)
  .attr("text-anchor", "end")
  .attr("font-family", sans).attr("font-weight", "bold")
  .attr("font-size", 38).attr("fill", "#0a9a0a")
  .text("n");

// axis titles
svg.append("text")
  .attr("x", 821).attr("y", 1211)
  .attr("text-anchor", "middle")
  .attr("font-family", titleSans).attr("font-size", 32).attr("fill", "#000")
  .text("Month");

const yt = svg.append("text")
  .attr("transform", "translate(1636,597) rotate(90)")
  .attr("text-anchor", "middle")
  .attr("font-family", titleSans).attr("font-size", 32).attr("fill", "#000");
yt.append("tspan").text("Surface O");
yt.append("tspan").attr("font-size", 20).attr("dy", 9).text("3");
yt.append("tspan").attr("dy", -9).attr("dx", 10).text("/ppbv");
</script>
</body>
</html>
